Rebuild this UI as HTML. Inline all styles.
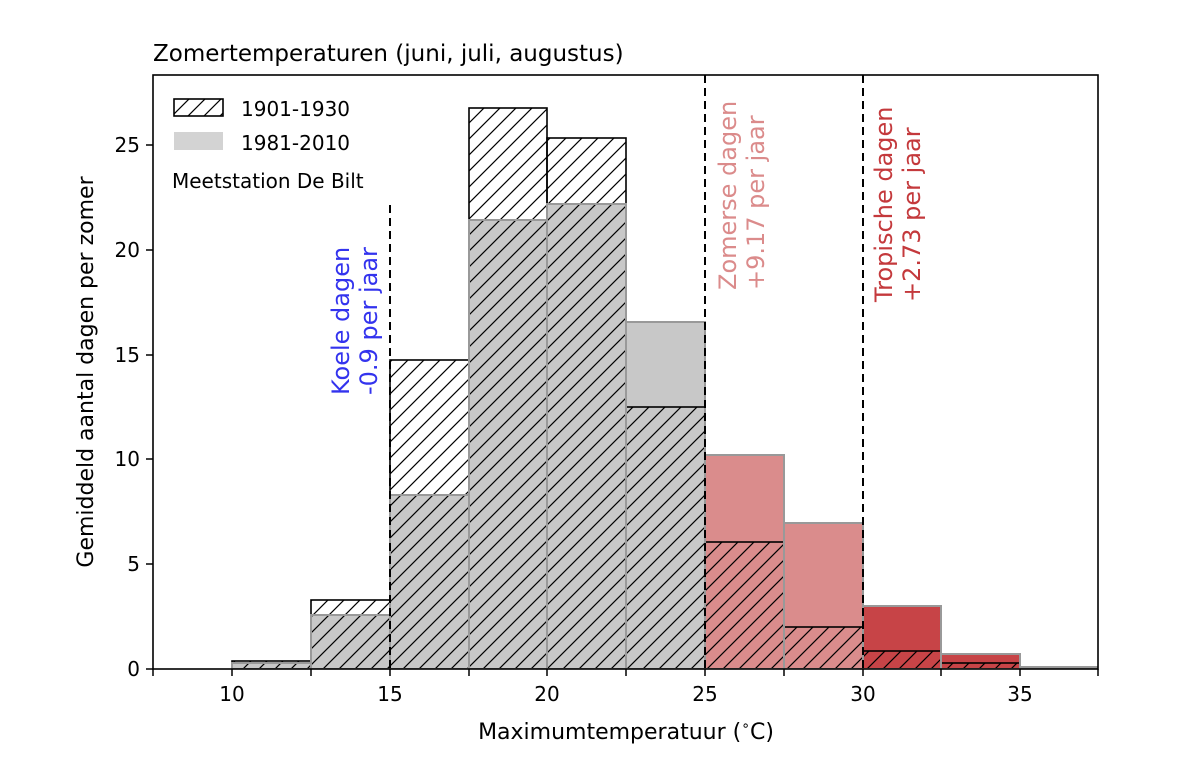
<!DOCTYPE html>
<html><head><meta charset="utf-8"><style>body{margin:0;background:#fff}svg{display:block}text{font-family:"DejaVu Sans","Liberation Sans",sans-serif}</style></head>
<body>
<svg width="1182" height="760" viewBox="0 0 1182 760" xmlns="http://www.w3.org/2000/svg">
<defs>
<pattern id="h" patternUnits="userSpaceOnUse" width="16" height="16">
<path d="M-4,4 L4,-4 M0,16 L16,0 M12,20 L20,12" stroke="#000" stroke-width="1.2"/>
</pattern>
<clipPath id="c"><rect x="153" y="75" width="945" height="594"/></clipPath>
</defs>
<g clip-path="url(#c)">
<rect x="232" y="663" width="79" height="6" fill="#c8c8c8"/>
<rect x="311" y="615" width="79" height="54" fill="#c8c8c8"/>
<rect x="390" y="495" width="79" height="174" fill="#c8c8c8"/>
<rect x="469" y="220" width="78" height="449" fill="#c8c8c8"/>
<rect x="547" y="204" width="79" height="465" fill="#c8c8c8"/>
<rect x="626" y="322" width="79" height="347" fill="#c8c8c8"/>
<rect x="705" y="455" width="79" height="214" fill="#da8c8c"/>
<rect x="784" y="523" width="79" height="146" fill="#da8c8c"/>
<rect x="863" y="606" width="78" height="63" fill="#c74447"/>
<rect x="941" y="654" width="79" height="15" fill="#c74447"/>
<rect x="1020" y="667" width="79" height="2" fill="#c8c8c8"/>
<g fill="url(#h)" stroke="#000" stroke-width="1.6">
<rect x="232" y="661" width="79" height="8"/>
<rect x="311" y="600" width="79" height="69"/>
<rect x="390" y="360" width="79" height="309"/>
<rect x="469" y="108" width="78" height="561"/>
<rect x="547" y="138" width="79" height="531"/>
<rect x="626" y="407" width="79" height="262"/>
<rect x="705" y="542" width="79" height="127"/>
<rect x="784" y="627" width="79" height="42"/>
<rect x="863" y="651" width="78" height="18"/>
<rect x="941" y="663" width="79" height="6"/>
</g>
<g fill="none" stroke="#999" stroke-width="2">
<rect x="232" y="663" width="79" height="6"/>
<rect x="311" y="615" width="79" height="54"/>
<rect x="390" y="495" width="79" height="174"/>
<rect x="469" y="220" width="78" height="449"/>
<rect x="547" y="204" width="79" height="465"/>
<rect x="626" y="322" width="79" height="347"/>
<rect x="705" y="455" width="79" height="214"/>
<rect x="784" y="523" width="79" height="146"/>
<rect x="863" y="606" width="78" height="63"/>
<rect x="941" y="654" width="79" height="15"/>
<rect x="1020" y="667" width="79" height="2"/>
</g>
</g>
<g stroke="#000" stroke-width="2" stroke-dasharray="8,5">
<line x1="390" y1="205" x2="390" y2="669"/>
<line x1="705" y1="75" x2="705" y2="669"/>
<line x1="863" y1="75" x2="863" y2="669"/>
</g>
<rect x="153" y="75" width="945" height="594" fill="none" stroke="#000" stroke-width="1.6"/>
<g stroke="#000" stroke-width="1.5">
<line x1="153" y1="669" x2="153" y2="676"/><line x1="232" y1="669" x2="232" y2="676"/><line x1="311" y1="669" x2="311" y2="676"/><line x1="390" y1="669" x2="390" y2="676"/><line x1="469" y1="669" x2="469" y2="676"/><line x1="547" y1="669" x2="547" y2="676"/><line x1="626" y1="669" x2="626" y2="676"/><line x1="705" y1="669" x2="705" y2="676"/><line x1="784" y1="669" x2="784" y2="676"/><line x1="863" y1="669" x2="863" y2="676"/><line x1="941" y1="669" x2="941" y2="676"/><line x1="1020" y1="669" x2="1020" y2="676"/><line x1="1098" y1="669" x2="1098" y2="676"/>
<line x1="146" y1="669" x2="153" y2="669"/><line x1="146" y1="564" x2="153" y2="564"/><line x1="146" y1="459" x2="153" y2="459"/><line x1="146" y1="355" x2="153" y2="355"/><line x1="146" y1="250" x2="153" y2="250"/><line x1="146" y1="145" x2="153" y2="145"/>
</g>
<g font-size="20" text-anchor="middle">
<text x="232" y="701">10</text><text x="390" y="701">15</text><text x="547" y="701">20</text><text x="705" y="701">25</text><text x="863" y="701">30</text><text x="1020" y="701">35</text>
</g>
<g font-size="20" text-anchor="end">
<text x="140" y="676">0</text><text x="140" y="571">5</text><text x="140" y="466">10</text><text x="140" y="362">15</text><text x="140" y="257">20</text><text x="140" y="152">25</text>
</g>
<text x="626" y="739" font-size="22" text-anchor="middle">Maximumtemperatuur (<tspan font-size="14" dy="-9">∘</tspan><tspan dy="9">C)</tspan></text>
<text transform="translate(93,372) rotate(-90)" font-size="22" text-anchor="middle">Gemiddeld aantal dagen per zomer</text>
<text x="153" y="61" font-size="23">Zomertemperaturen (juni, juli, augustus)</text>
<rect x="174" y="99" width="49" height="17" fill="url(#h)" stroke="#000" stroke-width="1.6"/>
<text x="241" y="116" font-size="20">1901-1930</text>
<rect x="174" y="132" width="49" height="18" fill="#d3d3d3"/>
<text x="241" y="150" font-size="20">1981-2010</text>
<text x="172" y="188" font-size="20">Meetstation De Bilt</text>
<g font-size="24">
<text transform="translate(349,395) rotate(-90)" fill="#3333ee">Koele dagen</text>
<text transform="translate(377,395) rotate(-90)" fill="#3333ee">-0.9 per jaar</text>
<text transform="translate(736,290) rotate(-90)" fill="#db8b8b">Zomerse dagen</text>
<text transform="translate(764,290) rotate(-90)" fill="#db8b8b">+9.17 per jaar</text>
<text transform="translate(892,302) rotate(-90)" fill="#c4393c">Tropische dagen</text>
<text transform="translate(920,302) rotate(-90)" fill="#c4393c">+2.73 per jaar</text>
</g>
</svg>
</body></html>
